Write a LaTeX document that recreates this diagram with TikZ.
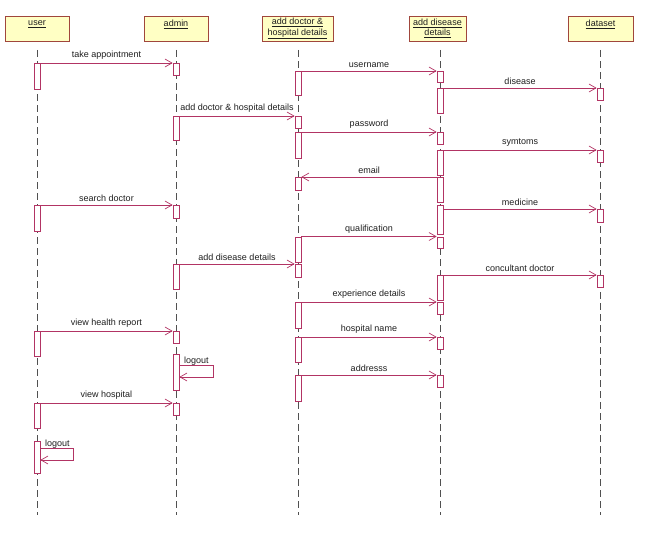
\documentclass[tikz,border=0pt]{standalone}
\usepackage{fontspec}
\setmainfont{Liberation Sans}
\usetikzlibrary{arrows.meta,calc}
\definecolor{msgc}{RGB}{178,52,100}
\definecolor{headborder}{RGB}{160,70,60}
\definecolor{headfill}{RGB}{255,255,196}
\definecolor{txt}{RGB}{30,30,30}
\definecolor{lifec}{RGB}{80,80,80}
\tikzset{
  head/.style={draw=headborder, fill=headfill, line width=0.8pt, minimum height=25pt,
    inner sep=0pt, align=center, text=txt, font=\fontsize{9}{10.5}\selectfont},
  actbar/.style={draw=msgc, fill=white, line width=0.7pt, minimum width=6pt,
    inner sep=0pt, anchor=north},
  msgarrow/.style={draw=msgc, line width=0.7pt, -{Straight Barb[length=7pt,width=8pt]}},
  lifeline/.style={draw=lifec, line width=0.7pt, dash pattern=on 7pt off 4pt},
  lbl/.style={text=txt, font=\fontsize{9}{10.5}\selectfont, inner sep=3pt}
}
\newcommand{\abar}[4]{\node[actbar, minimum height=#4-#3] (#1) at (#2,#3) {};}
\begin{document}
\begin{tikzpicture}[x=1pt,y=-1pt]
\useasboundingbox (0,0) rectangle (655,543);
% headers
\node[head, minimum width=64pt] (hu) at (37,28.5) {\underline{user}\\\mbox{}};
\node[head, minimum width=64pt] (ha) at (176,28.5) {\underline{admin}\\\mbox{}};
\node[head, minimum width=71pt] (hd) at (297.5,28.5) {\underline{add doctor \&}\\\underline{hospital details}};
\node[head, minimum width=57pt] (hs) at (437.5,28.5) {\underline{add disease}\\\underline{details}};
\node[head, minimum width=65pt] (ht) at (600.5,28.5) {\underline{dataset}\\\mbox{}};
% lifelines
\draw[lifeline] (37,50) -- (37,515);
\draw[lifeline] (176,50) -- (176,515);
\draw[lifeline] (298,50) -- (298,515);
\draw[lifeline] (440,50) -- (440,515);
\draw[lifeline] (600,50) -- (600,515);
% activation bars: user
\abar{u1}{37}{63}{89}
\abar{u2}{37}{205}{231}
\abar{u3}{37}{331}{356}
\abar{u4}{37}{403}{428}
\abar{u5}{37}{441}{473}
% admin
\abar{a1}{176}{63}{75}
\abar{a2}{176}{116}{140}
\abar{a3}{176}{205}{218}
\abar{a4}{176}{264}{289}
\abar{a5}{176}{331}{343}
\abar{a6}{176}{354}{390}
\abar{a7}{176}{403}{415}
% add doctor
\abar{d2}{298}{71}{95}
\abar{d1}{298}{116}{128}
\abar{d3}{298}{132}{158}
\abar{d4}{298}{177}{190}
\abar{d5}{298}{236.5}{262}
\abar{d6}{298}{264}{277}
\abar{d7}{298}{302}{328}
\abar{d8}{298}{337}{362}
\abar{d9}{298}{375}{401}
% add disease
\abar{s1}{440}{71}{82}
\abar{s2}{440}{88}{113}
\abar{s3}{440}{132}{144}
\abar{s4}{440}{150}{175}
\abar{s5}{440}{177}{202}
\abar{s6}{440}{205}{234}
\abar{s7}{440}{236.5}{248}
\abar{s8}{440}{275}{300}
\abar{s9}{440}{302}{314}
\abar{s10}{440}{337}{349}
\abar{s11}{440}{375}{387}
% dataset
\abar{t1}{600}{88}{100}
\abar{t2}{600}{150}{162}
\abar{t3}{600}{209}{222}
\abar{t4}{600}{275}{287}
% messages
\draw[msgarrow] (u1.north east) -- node[lbl, above] {take appointment} (a1.north west);
\draw[msgarrow] (a2.north east) -- node[lbl, above] {add doctor \& hospital details} (d1.north west);
\draw[msgarrow] (d2.north east) -- node[lbl, above] {username} (s1.north west);
\draw[msgarrow] (s2.north east) -- node[lbl, above] {disease} (t1.north west);
\draw[msgarrow] (d3.north east) -- node[lbl, above] {password} (s3.north west);
\draw[msgarrow] (s4.north east) -- node[lbl, above] {symtoms} (t2.north west);
\draw[msgarrow] (s5.north west) -- node[lbl, above] {email} (d4.north east);
\draw[msgarrow] (u2.north east) -- node[lbl, above] {search doctor} (a3.north west);
\draw[msgarrow] (s6.east |- t3.north west) -- node[lbl, above] {medicine} (t3.north west);
\draw[msgarrow] (d5.north east) -- node[lbl, above] {qualification} (s7.north west);
\draw[msgarrow] (a4.north east) -- node[lbl, above] {add disease details} (d6.north west);
\draw[msgarrow] (s8.north east) -- node[lbl, above] {concultant doctor} (t4.north west);
\draw[msgarrow] (d7.north east) -- node[lbl, above] {experience details} (s9.north west);
\draw[msgarrow] (u3.north east) -- node[lbl, above] {view health report} (a5.north west);
\draw[msgarrow] (d8.north east) -- node[lbl, above] {hospital name} (s10.north west);
\draw[msgarrow] (d9.north east) -- node[lbl, above] {addresss} (s11.north west);
\draw[msgarrow] (u4.north east) -- node[lbl, above] {view hospital} (a7.north west);
% self messages
\coordinate (a6s) at ($(a6.north east)+(0,11)$);
\coordinate (a6e) at ($(a6.north east)+(0,23)$);
\draw[msgarrow] (a6s) -- ++(34,0) |- (a6e);
\node[lbl, inner sep=1.5pt, anchor=south west] (la6) at ($(a6s)+(3,2.5)$) {logout};
\coordinate (u5s) at ($(u5.north east)+(0,7)$);
\coordinate (u5e) at ($(u5.north east)+(0,19)$);
\draw[msgarrow] (u5s) -- ++(33,0) |- (u5e);
\node[lbl, inner sep=1.5pt, anchor=south west] (lu5) at ($(u5s)+(3,2.5)$) {logout};
\end{tikzpicture}
\end{document}
